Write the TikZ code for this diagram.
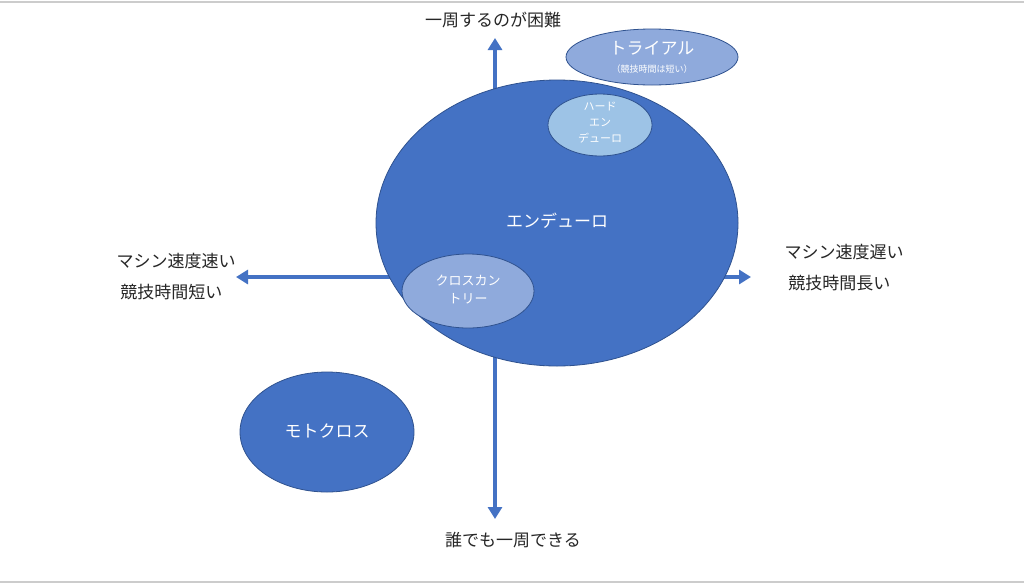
\documentclass[tikz,border=0pt]{standalone}
\usepackage{fontspec}
\setmainfont{Noto Sans CJK JP}
\usetikzlibrary{arrows.meta}
\definecolor{acc}{HTML}{4472C4}
\definecolor{edge}{HTML}{2F528F}
\definecolor{lite}{HTML}{8FAADC}
\definecolor{sky}{HTML}{9DC3E6}
\begin{document}
\begin{tikzpicture}[x=1pt,y=-1pt,
  axis/.style={draw=acc,line width=4pt,-{Triangle[length=12pt,width=14pt]}},
  blob/.style={draw=edge,line width=0.8pt},
  lbl/.style={font=\fontsize{17}{24}\selectfont,text=black!85,align=center},
  wt/.style={text=white,align=center}]
\useasboundingbox (0,0) rectangle (1024,584);
\fill[white] (0,0) rectangle (1024,584);
\draw[gray!40,line width=1.5pt] (0,2) -- (1024,2);
\draw[gray!40,line width=1.5pt] (0,582) -- (1024,582);
\coordinate (o) at (495,277);
\coordinate (t) at (495,38);
\coordinate (b) at (495,519);
\coordinate (l) at (236,277);
\coordinate (r) at (751,277);
\draw[axis] (o) -- (t);
\draw[axis] (o) -- (b);
\draw[axis] (o) -- (l);
\draw[axis] (o) -- (r);
\filldraw[blob,fill=acc] (557,223) ellipse [x radius=181,y radius=143];
\node[wt,font=\fontsize{17}{20}\selectfont] (en) at (557,221) {エンデューロ};
\filldraw[blob,fill=lite] (652,57) ellipse [x radius=86,y radius=28];
\node[wt,font=\fontsize{17}{20}\selectfont] (tr) at (652,48) {トライアル};
\node[wt,font=\fontsize{9}{11}\selectfont] (trs) at (652,69) {（競技時間は短い）};
\filldraw[blob,fill=sky] (600,125) ellipse [x radius=52,y radius=31];
\node[wt,font=\fontsize{11}{16}\selectfont] (he) at (600,123) {ハード\\エン\\デューロ};
\filldraw[blob,fill=lite] (468,291) ellipse [x radius=66,y radius=37];
\node[wt,font=\fontsize{13}{18}\selectfont] (cc) at (468,290) {クロスカン\\トリー};
\filldraw[blob,fill=acc] (327,432) ellipse [x radius=87,y radius=60];
\node[wt,font=\fontsize{17}{20}\selectfont] (mx) at (327,431) {モトクロス};
\node[lbl] (tl) at (493,20) {一周するのが困難};
\node[lbl] (bl) at (513,540) {誰でも一周できる};
\node[lbl,align=left,font=\fontsize{17}{31}\selectfont] (ll) at (176,277) {マシン速度速い\\\ 競技時間短い};
\node[lbl,align=left,font=\fontsize{17}{31}\selectfont] (rl) at (844,268) {マシン速度遅い\\\ 競技時間長い};
\end{tikzpicture}
\end{document}
